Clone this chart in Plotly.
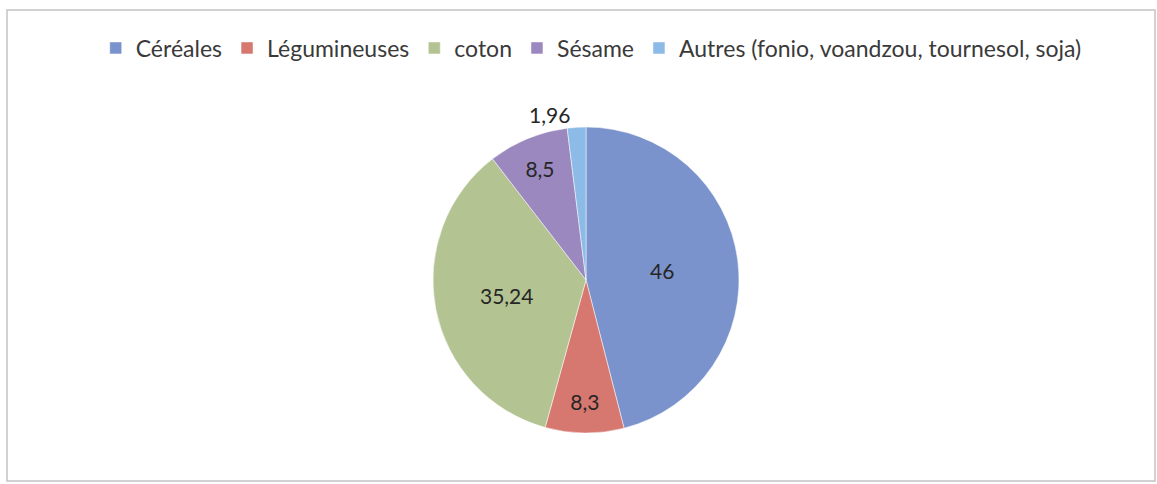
import plotly.graph_objects as go

# donnees
cultures = ['Céréales', 'Légumineuses', 'coton', 'Sésame',
            'Autres (fonio, voandzou, tournesol, soja)']
parts = [46, 8.3, 35.24, 8.5, 1.96]
couleurs = ['#7b93cc', '#d6786f', '#b3c391', '#9b88bf', '#8dbbe8']
positions = ['inside', 'inside', 'inside', 'inside', 'outside']

W, H = 1157, 484

fig = go.Figure()
fig.add_trace(go.Pie(
    labels=cultures,
    values=parts,
    sort=False,
    direction='clockwise',
    rotation=0,
    marker=dict(colors=couleurs, line=dict(color='white', width=0.5)),
    texttemplate='%{value}',
    textposition=positions,
    insidetextorientation='horizontal',
    textfont=dict(family='Lato', size=21, color='#262626'),
    domain=dict(x=[433 / W, 739 / W], y=[51 / H, 357 / H]),
    hoverinfo='label+value',
))

# cadre du graphique
fig.add_shape(type='rect', xref='paper', yref='paper',
              x0=7 / W, x1=1155 / W, y0=(H - 481) / H, y1=(H - 10) / H,
              line=dict(color='#c4c4c4', width=1.5))

fig.update_layout(
    width=W, height=H,
    margin=dict(l=0, r=0, t=0, b=0),
    separators=', ',
    paper_bgcolor='white',
    plot_bgcolor='white',
    showlegend=True,
    legend=dict(orientation='h', x=0.511, xanchor='center', y=(H - 48) / H, yanchor='middle',
                font=dict(family='Lato', size=23, color='#3a3a3a'),
                itemwidth=30, traceorder='normal'),
    font=dict(family='Lato'),
)

# page sans marge pour que la figure soit a (0,0)
fig.write_html('out.html', config={'displayModeBar': False},
               post_script="document.body.style.margin='0';")
